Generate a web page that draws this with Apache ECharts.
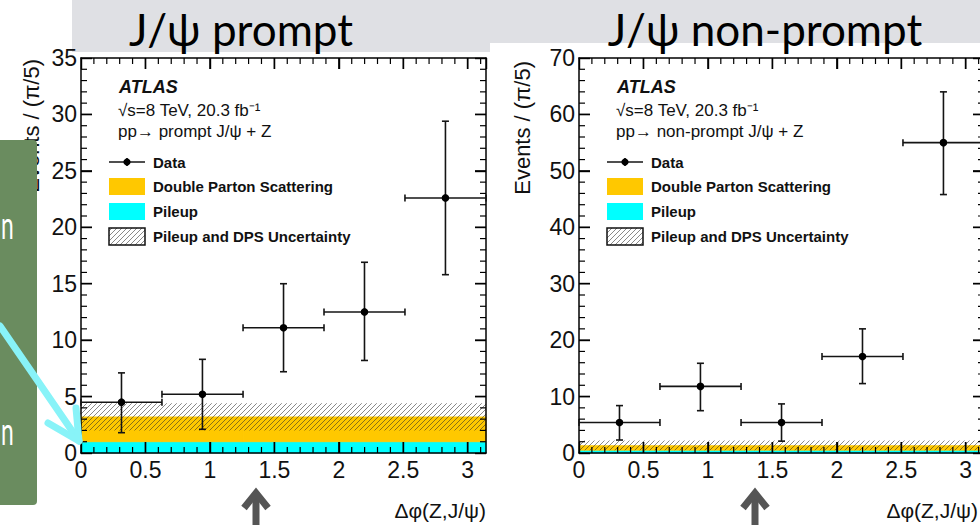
<!DOCTYPE html>
<html><head><meta charset="utf-8">
<script src="https://cdn.jsdelivr.net/npm/echarts@6/dist/echarts.min.js"></script>
<style>html,body{margin:0;padding:0;background:#fff;overflow:hidden}#c{width:980px;height:525px}</style>
</head><body><div id="c"></div>
<script>
// ---------------- data ----------------
const binEdges = [0, 0.628, 1.257, 1.885, 2.513, 3.142];
const binCenters = [0.314, 0.942, 1.571, 2.199, 2.827];
const xMax = 3.1416;
const xTickLabels = ['0', '0.5', '1', '1.5', '2', '2.5', '3'];
const xMajorTicks = [0.5, 1, 1.5, 2, 2.5, 3];
const xMinorTicks = [0.1, 0.2, 0.3, 0.4, 0.6, 0.7, 0.8, 0.9, 1.1, 1.2, 1.3, 1.4, 1.6, 1.7, 1.8, 1.9,
                     2.1, 2.2, 2.3, 2.4, 2.6, 2.7, 2.8, 2.9, 3.1];

const promptValues   = [4.5, 5.2, 11.1, 12.5, 22.6];
const promptErrUp    = [7.1, 8.3, 15.0, 16.9, 29.4];
const promptErrDown  = [1.8, 2.1, 7.2, 8.2, 15.8];
const promptPileup   = [1.0, 1.0, 1.0, 1.0, 1.0];
const promptDPS      = [2.2, 2.2, 2.2, 2.2, 2.2];
const promptUncLow   = [2.0, 2.0, 2.0, 2.0, 2.0];
const promptUncHigh  = [4.4, 4.4, 4.4, 4.4, 4.4];
const promptYMax = 35, promptYStep = 5;
const promptYMajorTicks = [5, 10, 15, 20, 25, 30];
const promptYMinorTicks = [1, 2, 3, 4, 6, 7, 8, 9, 11, 12, 13, 14, 16, 17, 18, 19, 21, 22, 23, 24, 26, 27, 28, 29, 31, 32, 33, 34];

const nonpromptValues  = [5.4, 11.8, 5.4, 17.1, 55.0];
const nonpromptErrUp   = [8.4, 15.9, 8.7, 22.0, 64.0];
const nonpromptErrDown = [2.3, 7.5, 2.1, 12.3, 45.8];
const nonpromptPileup  = [0.5, 0.5, 0.5, 0.5, 0.5];
const nonpromptDPS     = [0.8, 0.8, 0.8, 0.8, 0.8];
const nonpromptUncLow  = [0.5, 0.5, 0.5, 0.5, 0.5];
const nonpromptUncHigh = [2.2, 2.2, 2.2, 2.2, 2.2];
const nonpromptYMax = 70, nonpromptYStep = 10;
const nonpromptYMajorTicks = [10, 20, 30, 40, 50, 60];
const nonpromptYMinorTicks = [2, 4, 6, 8, 12, 14, 16, 18, 22, 24, 26, 28, 32, 34, 36, 38, 42, 44, 46, 48, 52, 54, 56, 58, 62, 64, 66, 68];

const titles = ['J/ψ prompt', 'J/ψ non-prompt'];
const processLabels = ['pp→ prompt J/ψ + Z', 'pp→ non-prompt J/ψ + Z'];
const legendLabels = ['Data', 'Double Parton Scattering', 'Pileup', 'Pileup and DPS Uncertainty'];
const yAxisTitle = 'Events / (π/5)';
const xAxisTitle = 'Δφ(Z,J/ψ)';

// ---------------- styles ----------------
const FONT = "'Liberation Sans', Arial, Helvetica, sans-serif";
const ORANGE = '#ffc800', CYAN = '#00ffff', INK = '#141414';

const pc = document.createElement('canvas');
pc.width = 5; pc.height = 5;
(function () {
  const c = pc.getContext('2d');
  c.strokeStyle = 'rgba(40,40,40,0.55)'; c.lineWidth = 1;
  c.beginPath();
  c.moveTo(0, 5); c.lineTo(5, 0);
  c.moveTo(-1, 1); c.lineTo(1, -1);
  c.moveTo(4, 6); c.lineTo(6, 4);
  c.stroke();
})();
const HATCH = { image: pc, repeat: 'repeat' };

const grids = [
  { left: 81, top: 58, width: 405, height: 395 },
  { left: 579, top: 58, width: 405, height: 395 }
];

// ---------------- helpers ----------------
function bandData(lo, hi) {
  return binCenters.map((_, i) => [binEdges[i], binEdges[i + 1], lo[i], hi[i]]);
}
function bandRender(fill, edge) {
  return function (params, api) {
    const a = api.coord([api.value(0), api.value(3)]);
    const b = api.coord([api.value(1), api.value(2)]);
    return {
      type: 'rect',
      shape: { x: a[0], y: a[1], width: b[0] - a[0], height: b[1] - a[1] },
      style: { fill: fill, stroke: edge || null, lineWidth: edge ? 0.8 : 0 }
    };
  };
}
function pointData(v, up, dn) {
  return binCenters.map((c, i) => [c, v[i], binEdges[i], binEdges[i + 1], dn[i], up[i]]);
}
function pointRender(params, api) {
  const y = api.value(1), x = api.value(0);
  const c = api.coord([x, y]);
  const l = api.coord([api.value(2), y]);
  const r = api.coord([api.value(3), y]);
  const d = api.coord([x, api.value(4)]);
  const u = api.coord([x, api.value(5)]);
  const cap = 3.5;
  const st = { stroke: INK, lineWidth: 1.6, fill: null };
  const line = (x1, y1, x2, y2) => ({ type: 'line', shape: { x1, y1, x2, y2 }, style: st });
  return {
    type: 'group',
    children: [
      line(l[0], l[1], r[0], r[1]),
      line(d[0], d[1], u[0], u[1]),
      line(l[0], l[1] - cap, l[0], l[1] + cap),
      line(r[0], r[1] - cap, r[0], r[1] + cap),
      line(d[0] - cap, d[1], d[0] + cap, d[1]),
      line(u[0] - cap, u[1], u[0] + cap, u[1]),
      { type: 'circle', shape: { cx: c[0], cy: c[1], r: 3.8 }, style: { fill: '#000' } }
    ]
  };
}
function xLabel(v) {
  const k = Math.round(v * 2);
  return Math.abs(v * 2 - k) < 1e-6 && xTickLabels[k] !== undefined ? xTickLabels[k] : '';
}
function xAxes(gi) {
  return ['bottom', 'top'].map(pos => ({
    gridIndex: gi, type: 'value', min: 0, max: xMax, interval: 0.5, position: pos, z: 5,
    splitLine: { show: false },
    axisLine: { show: true, onZero: false, lineStyle: { color: '#000', width: 1.5 } },
    axisTick: { show: true, inside: true, length: 11, lineStyle: { color: '#000', width: 1.4 } },
    axisLabel: pos === 'bottom'
      ? { show: true, margin: 5, fontSize: 23, fontFamily: FONT, color: '#111', formatter: xLabel, showMaxLabel: false, hideOverlap: false }
      : { show: false }
  }));
}
function yAxes(gi, ymax, step) {
  return ['left', 'right'].map(pos => ({
    gridIndex: gi, type: 'value', min: 0, max: ymax, interval: step, position: pos, z: 5,
    splitLine: { show: false },
    axisLine: { show: true, onZero: false, lineStyle: { color: '#000', width: 1.5 } },
    axisTick: { show: true, inside: true, length: 11, lineStyle: { color: '#000', width: 1.4 } },
    axisLabel: pos === 'left'
      ? { show: true, margin: 4, fontSize: 23, fontFamily: FONT, color: '#111' }
      : { show: false }
  }));
}
function seriesFor(gi, pu, dps, lo, hi, v, up, dn) {
  const xi = gi * 2, yi = gi * 2;
  const top = pu.map((p, i) => p + dps[i]);
  const common = { type: 'custom', xAxisIndex: xi, yAxisIndex: yi, silent: true, animation: false, encode: { x: [0, 1], y: [2, 3] } };
  return [
    Object.assign({}, common, { name: 'Pileup', data: bandData(pu.map(() => 0), pu), renderItem: bandRender(CYAN, CYAN), z: 2 }),
    Object.assign({}, common, { name: 'Double Parton Scattering', data: bandData(pu, top), renderItem: bandRender(ORANGE, ORANGE), z: 3 }),
    Object.assign({}, common, { name: 'Pileup and DPS Uncertainty', data: bandData(lo, hi), renderItem: bandRender(HATCH), z: 4 }),
    { type: 'custom', name: 'Data', xAxisIndex: xi, yAxisIndex: yi, silent: true, animation: false,
      encode: { x: 0, y: 1 }, data: pointData(v, up, dn), renderItem: pointRender, z: 6 }
  ];
}
function legendGraphics(gi) {
  const L = grids[gi].left;
  const t = (x, y, text, size, weight, style) => ({
    type: 'text', x: x, y: y, z: 20,
    style: { text: text, fill: '#111', font: (style || 'normal') + ' ' + (weight || 'normal') + ' ' + size + 'px ' + FONT, textVerticalAlign: 'middle', textAlign: 'left' }
  });
  return [
    t(L + 38, 87, 'ATLAS', 18, 'bold', 'italic'),
    t(L + 37, 110, '√s=8 TeV, 20.3 fb⁻¹', 17),
    t(L + 37, 131, processLabels[gi], 17),
    { type: 'line', z: 20, shape: { x1: L + 28, y1: 162, x2: L + 64, y2: 162 }, style: { stroke: INK, lineWidth: 1.6 } },
    { type: 'line', z: 20, shape: { x1: L + 46, y1: 158, x2: L + 46, y2: 166 }, style: { stroke: INK, lineWidth: 1.6 } },
    { type: 'circle', z: 21, shape: { cx: L + 46, cy: 162, r: 3.6 }, style: { fill: '#000' } },
    t(L + 72, 162, legendLabels[0], 15, 'bold'),
    { type: 'rect', z: 20, shape: { x: L + 28, y: 178, width: 36, height: 17 }, style: { fill: ORANGE } },
    t(L + 72, 186, legendLabels[1], 15, 'bold'),
    { type: 'rect', z: 20, shape: { x: L + 28, y: 203, width: 36, height: 17 }, style: { fill: CYAN } },
    t(L + 72, 211, legendLabels[2], 15, 'bold'),
    { type: 'rect', z: 20, shape: { x: L + 28, y: 228, width: 36, height: 17 }, style: { fill: HATCH, stroke: '#111', lineWidth: 1.5 } },
    t(L + 72, 236, legendLabels[3], 15, 'bold'),
    { type: 'text', z: 20, x: Math.min(grids[gi].left + grids[gi].width, 978), y: 510,
      style: { text: xAxisTitle, fill: '#111', font: '21px ' + FONT, textAlign: 'right', textVerticalAlign: 'middle' } }
  ];
}

// ---------------- slide decorations ----------------
const deco = [
  { type: 'rect', z: -10, shape: { x: 72, y: 0, width: 908, height: 52 }, style: { fill: '#dfe0e4' } },
  { type: 'rect', z: -9, shape: { x: 490, y: 43, width: 490, height: 12 }, style: { fill: '#ffffff' } },
  { type: 'text', z: 30, x: 241, y: 29, style: { text: titles[0], fill: '#000', font: '44px Lato, "Open Sans", sans-serif', textAlign: 'center', textVerticalAlign: 'middle' } },
  { type: 'text', z: 30, x: 765, y: 29, style: { text: titles[1], fill: '#000', font: '44px Lato, "Open Sans", sans-serif', textAlign: 'center', textVerticalAlign: 'middle' } },
  { type: 'text', z: 5, x: 31, y: 59, rotation: Math.PI / 2, style: { text: yAxisTitle, fill: '#111', font: '22px ' + FONT, textAlign: 'right', textVerticalAlign: 'middle' } },
  { type: 'text', z: 5, x: 522, y: 61, rotation: Math.PI / 2, style: { text: yAxisTitle, fill: '#111', font: '22px ' + FONT, textAlign: 'right', textVerticalAlign: 'middle' } },
  { type: 'rect', z: 40, shape: { x: -6, y: 140, width: 43, height: 365, r: 4 }, style: { fill: '#6a8c5f' } },
  { type: 'text', z: 41, x: 1, y: 224, scaleX: 0.6, style: { text: 'n', fill: '#ffffff', font: '38px Lato, sans-serif', textAlign: 'left', textVerticalAlign: 'middle' } },
  { type: 'text', z: 41, x: 1, y: 430, scaleX: 0.6, style: { text: 'n', fill: '#ffffff', font: '38px Lato, sans-serif', textAlign: 'left', textVerticalAlign: 'middle' } },
  { type: 'polyline', z: 45, shape: { points: [[0, 326], [79, 441]] }, style: { stroke: '#88f3f8', lineWidth: 7, lineCap: 'round', fill: null } },
  { type: 'polyline', z: 45, shape: { points: [[48, 423], [79, 441], [76, 408]] }, style: { stroke: '#88f3f8', lineWidth: 7, lineCap: 'round', lineJoin: 'round', fill: null } },
  { type: 'polyline', z: 45, shape: { points: [[256, 530], [256, 493]] }, style: { stroke: '#555555', lineWidth: 7, fill: null } },
  { type: 'polyline', z: 45, shape: { points: [[244, 508], [256, 493], [268, 508]] }, style: { stroke: '#555555', lineWidth: 7, lineJoin: 'miter', fill: null } },
  { type: 'polyline', z: 45, shape: { points: [[755, 530], [755, 493]] }, style: { stroke: '#555555', lineWidth: 7, fill: null } },
  { type: 'polyline', z: 45, shape: { points: [[743, 508], [755, 493], [767, 508]] }, style: { stroke: '#555555', lineWidth: 7, lineJoin: 'miter', fill: null } }
];

const chart = echarts.init(document.getElementById('c'), null, { renderer: 'svg', width: 980, height: 525 });
chart.setOption({
  animation: false,
  backgroundColor: '#ffffff',
  grid: grids.map(g => Object.assign({ containLabel: false, outerBoundsMode: 'none' }, g)),
  xAxis: xAxes(0).concat(xAxes(1)),
  yAxis: yAxes(0, promptYMax, promptYStep).concat(yAxes(1, nonpromptYMax, nonpromptYStep)),
  series: seriesFor(0, promptPileup, promptDPS, promptUncLow, promptUncHigh, promptValues, promptErrUp, promptErrDown)
    .concat(seriesFor(1, nonpromptPileup, nonpromptDPS, nonpromptUncLow, nonpromptUncHigh, nonpromptValues, nonpromptErrUp, nonpromptErrDown))
});

// ROOT-style inward ticks on all four frame sides, positioned through the axis scales
function frameTicks(gi, yMax, yMaj, yMin) {
  const finder = { xAxisIndex: gi * 2, yAxisIndex: gi * 2 };
  const px = (x, y) => chart.convertToPixel(finder, [x, y]);
  const out = [];
  const add = (x1, y1, x2, y2, minor) => out.push({
    type: 'line', z: 15, silent: true,
    shape: { x1, y1, x2, y2 },
    style: { stroke: '#000', lineWidth: minor ? 1.2 : 1.4 }
  });
  [[xMajorTicks, 0], [xMinorTicks, 1]].forEach(([list, minor]) => list.forEach(v => {
    const len = minor ? 6 : 11;
    const b = px(v, 0), t = px(v, yMax);
    add(b[0], b[1], b[0], b[1] - len, minor);
    add(t[0], t[1], t[0], t[1] + len, minor);
  }));
  [[yMaj, 0], [yMin, 1]].forEach(([list, minor]) => list.forEach(v => {
    const len = minor ? 6 : 11;
    const l = px(0, v), r = px(xMax, v);
    add(l[0], l[1], l[0] + len, l[1], minor);
    add(r[0], r[1], r[0] - len, r[1], minor);
  }));
  return out;
}

chart.setOption({
  graphic: {
    elements: deco.concat(
      legendGraphics(0), legendGraphics(1),
      frameTicks(0, promptYMax, promptYMajorTicks, promptYMinorTicks),
      frameTicks(1, nonpromptYMax, nonpromptYMajorTicks, nonpromptYMinorTicks))
  }
});
</script></body></html>
